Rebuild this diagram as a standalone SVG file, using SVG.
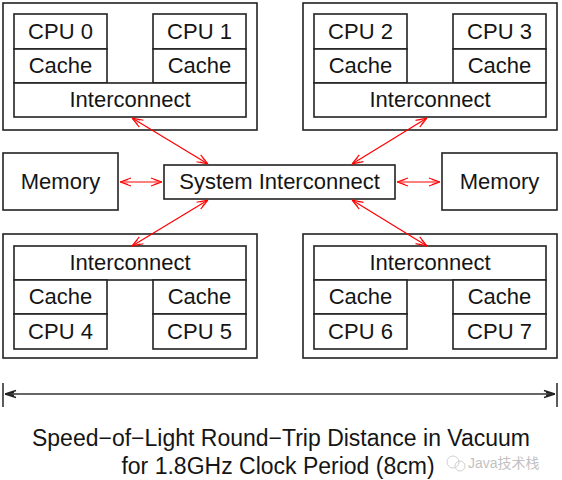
<svg xmlns="http://www.w3.org/2000/svg" width="562" height="480" viewBox="0 0 562 480">
<defs>
<style>
.box{fill:#fff;stroke:#222;stroke-width:1.6}
.t{font-family:"Liberation Sans",Arial,sans-serif;font-size:22px;fill:#151515;text-anchor:middle}
.cap{font-family:"Liberation Sans",Arial,sans-serif;font-size:23px;fill:#151515;text-anchor:middle}
.red{stroke:#f00;stroke-width:1.2;fill:none}
.blk{stroke:#333;stroke-width:1.6;fill:none}
</style>
<marker id="ra" viewBox="0 0 12 10" refX="12" refY="5" markerWidth="12" markerHeight="10" markerUnits="userSpaceOnUse" orient="auto-start-reverse">
<path d="M1,1 L12,5 L1,9 M4,2.5 L12,5 L4,7.5" fill="none" stroke="#f00" stroke-width="1.1"/>
</marker>
<marker id="ba" viewBox="0 0 12 10" refX="12" refY="5" markerWidth="12" markerHeight="10" markerUnits="userSpaceOnUse" orient="auto-start-reverse">
<path d="M1,1.5 L12,5 L1,8.5 M3,3.5 L12,5 L3,6.5" fill="none" stroke="#222" stroke-width="1.4"/>
</marker>
</defs>
<rect width="562" height="480" fill="#fff"/>

<g id="cluster-top-left">
<rect class="box" x="3" y="3" width="254" height="127"/>
<rect class="box" x="14" y="14" width="93" height="35"/>
<rect class="box" x="14" y="49" width="93" height="34"/>
<rect class="box" x="153" y="14" width="93" height="35"/>
<rect class="box" x="153" y="49" width="93" height="34"/>
<rect class="box" x="14" y="83" width="232" height="34"/>
<text class="t" x="60.5" y="39">CPU 0</text>
<text class="t" x="60.5" y="73">Cache</text>
<text class="t" x="199.5" y="39">CPU 1</text>
<text class="t" x="199.5" y="73">Cache</text>
<text class="t" x="130" y="107">Interconnect</text>
</g>

<g id="cluster-top-right">
<rect class="box" x="303" y="3" width="254" height="127"/>
<rect class="box" x="314" y="14" width="93" height="35"/>
<rect class="box" x="314" y="49" width="93" height="34"/>
<rect class="box" x="453" y="14" width="93" height="35"/>
<rect class="box" x="453" y="49" width="93" height="34"/>
<rect class="box" x="314" y="83" width="232" height="34"/>
<text class="t" x="360.5" y="39">CPU 2</text>
<text class="t" x="360.5" y="73">Cache</text>
<text class="t" x="499.5" y="39">CPU 3</text>
<text class="t" x="499.5" y="73">Cache</text>
<text class="t" x="430" y="107">Interconnect</text>
</g>

<g id="memory-left">
<rect class="box" x="3" y="153" width="115" height="57"/>
<text class="t" x="60.5" y="189">Memory</text>
</g>

<g id="system-interconnect">
<rect class="box" x="164" y="165" width="231" height="34"/>
<text class="t" x="279.5" y="189">System Interconnect</text>
</g>

<g id="memory-right">
<rect class="box" x="442" y="153" width="115" height="57"/>
<text class="t" x="499.5" y="189">Memory</text>
</g>

<g id="cluster-bottom-left">
<rect class="box" x="3" y="234" width="254" height="124"/>
<rect class="box" x="14" y="246" width="232" height="34"/>
<rect class="box" x="14" y="280" width="93" height="34"/>
<rect class="box" x="14" y="314" width="93" height="35"/>
<rect class="box" x="153" y="280" width="93" height="34"/>
<rect class="box" x="153" y="314" width="93" height="35"/>
<text class="t" x="130" y="270">Interconnect</text>
<text class="t" x="60.5" y="304">Cache</text>
<text class="t" x="60.5" y="339">CPU 4</text>
<text class="t" x="199.5" y="304">Cache</text>
<text class="t" x="199.5" y="339">CPU 5</text>
</g>

<g id="cluster-bottom-right">
<rect class="box" x="303" y="234" width="254" height="124"/>
<rect class="box" x="314" y="246" width="232" height="34"/>
<rect class="box" x="314" y="280" width="93" height="34"/>
<rect class="box" x="314" y="314" width="93" height="35"/>
<rect class="box" x="453" y="280" width="93" height="34"/>
<rect class="box" x="453" y="314" width="93" height="35"/>
<text class="t" x="430" y="270">Interconnect</text>
<text class="t" x="360.5" y="304">Cache</text>
<text class="t" x="360.5" y="339">CPU 6</text>
<text class="t" x="499.5" y="304">Cache</text>
<text class="t" x="499.5" y="339">CPU 7</text>
</g>

<g id="connectors">
<line class="red" x1="132" y1="118" x2="208" y2="164" marker-start="url(#ra)" marker-end="url(#ra)"/>
<line class="red" x1="427" y1="118" x2="352" y2="164" marker-start="url(#ra)" marker-end="url(#ra)"/>
<line class="red" x1="132" y1="246" x2="208" y2="200" marker-start="url(#ra)" marker-end="url(#ra)"/>
<line class="red" x1="427" y1="246" x2="352" y2="200" marker-start="url(#ra)" marker-end="url(#ra)"/>
<line class="red" x1="120" y1="182" x2="162" y2="182" marker-start="url(#ra)" marker-end="url(#ra)"/>
<line class="red" x1="397" y1="182" x2="440" y2="182" marker-start="url(#ra)" marker-end="url(#ra)"/>
</g>

<g id="scale">
<line class="blk" x1="3" y1="383" x2="3" y2="407"/>
<line class="blk" x1="557" y1="383" x2="557" y2="407"/>
<line class="blk" x1="5" y1="394" x2="555" y2="394" marker-start="url(#ba)" marker-end="url(#ba)"/>
<text class="cap" x="281" y="446">Speed−of−Light Round−Trip Distance in Vacuum</text>
<text class="cap" x="278" y="474">for 1.8GHz Clock Period (8cm)</text>
</g>

<g id="watermark" opacity="0.45">
<circle cx="453" cy="462" r="6" fill="none" stroke="#999" stroke-width="1"/>
<circle cx="460" cy="466" r="5" fill="none" stroke="#999" stroke-width="1"/>
<text x="468" y="468" font-family="'Liberation Sans','Noto Sans CJK SC',sans-serif" font-size="14" fill="#777">Java技术栈</text>
</g>
</svg>
